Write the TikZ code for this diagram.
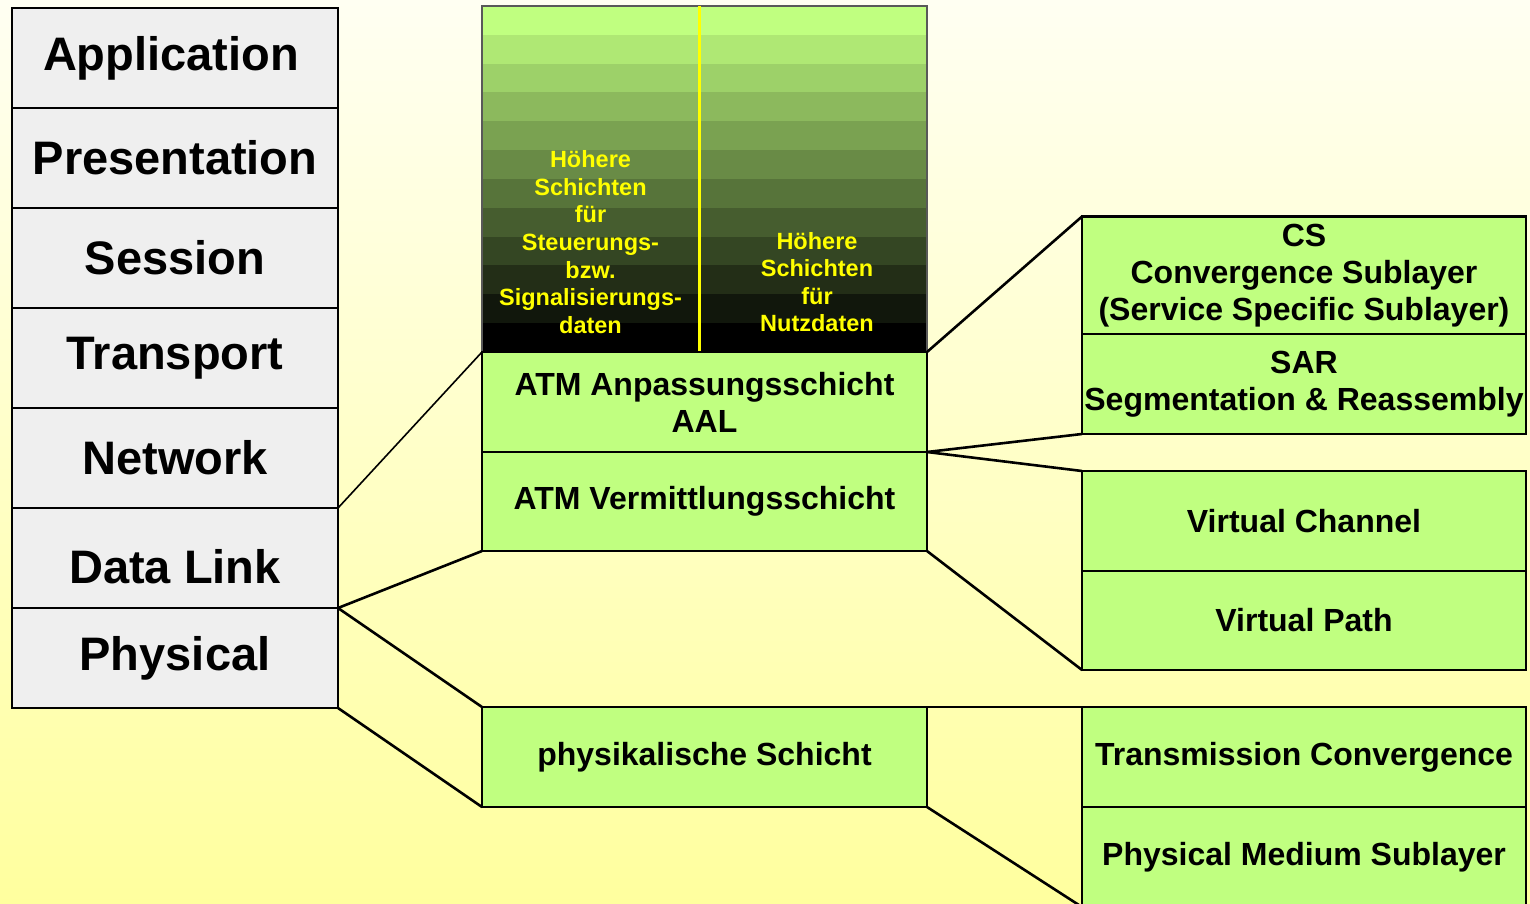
\documentclass[tikz,border=0pt]{standalone}
\usepackage{fontspec}
\setmainfont{Liberation Sans}
\definecolor{lgreen}{RGB}{192,255,128}
\definecolor{osigray}{RGB}{239,239,239}
\definecolor{bgtop}{RGB}{255,255,242}
\definecolor{bgbot}{RGB}{255,255,158}
\definecolor{txtyellow}{RGB}{255,255,0}
\begin{document}
\begin{tikzpicture}[x=1pt,y=-1pt,
  osi/.style={draw=black,line width=2pt,fill=osigray,minimum width=326pt,minimum height=100pt,inner sep=0pt,outer sep=0pt,font=\fontsize{47}{52}\selectfont\bfseries},
  atm/.style={draw=black,line width=2pt,fill=lgreen,minimum width=445pt,minimum height=100pt,inner sep=0pt,outer sep=0pt,align=center,font=\fontsize{32}{37}\selectfont\bfseries},
  sub/.style={draw=black,line width=2.2pt,fill=lgreen,minimum width=444pt,minimum height=100pt,inner sep=0pt,outer sep=0pt,align=center,font=\fontsize{32}{37}\selectfont\bfseries},
  hltext/.style={text=txtyellow,align=center,inner sep=0pt,font=\fontsize{23.5}{27.6}\selectfont\bfseries},
  link/.style={draw=black,line width=2.6pt},
  thinlink/.style={draw=black,line width=1.6pt}]
\useasboundingbox (0,0) rectangle (1530,904);
\shade[top color=bgtop,bottom color=bgbot] (0,0) rectangle (1530,904);
% OSI stack
\node[osi] (app) at (175,58) {\hspace*{-8pt}Application};
\node[osi] (pres) at (175,158) {Presentation};
\node[osi] (sess) at (175,258) {Session};
\node[osi] (trans) at (175,358) {Transport};
\node[osi] (net) at (175,458) {Network};
\node[osi] (dl) at (175,558) {\raisebox{-8pt}[\height][0pt]{Data Link}};
\node[osi] (phys) at (175,658) {Physical};
% higher layers gradient block
\foreach \i in {0,...,11}{
  \pgfmathsetmacro\pc{100*(11-\i)/11}
  \pgfmathsetmacro\ya{6+\i*28.833}
  \pgfmathsetmacro\yb{6+(\i+1)*28.833}
  \fill[lgreen!\pc!black] (482,\ya) rectangle (927,\yb);
}
\node[draw=gray!70!black,line width=1.5pt,minimum width=445pt,minimum height=346pt,inner sep=0pt,outer sep=0pt] (hl) at (704.5,179) {};
\coordinate (dtop) at (699,6);
\coordinate (dbot) at (699,352);
\draw[txtyellow,line width=3pt] (dtop) -- (dbot);
\node[hltext] (lt) at (590.5,242) {Höhere\\Schichten\\für\\Steuerungs-\\bzw.\\Signalisierungs-\\daten};
\node[hltext] (rt) at (817,282) {Höhere\\Schichten\\für\\Nutzdaten};
% ATM middle column
\node[atm] (aal) at (704.5,402) {ATM Anpassungsschicht\\AAL};
\node[atm,minimum height=99pt] (vm) at (704.5,501.5) {ATM Vermittlungsschicht};
\node[atm] (phy) at (704.5,757) {physikalische Schicht};
% right sublayers
\node[sub,minimum height=119pt] (cs) at (1304,276) {CS\\Convergence Sublayer\\(Service Specific Sublayer)};
\node[sub] (sar) at (1304,384) {SAR\\Segmentation \& Reassembly};
\node[sub] (vc) at (1304,521) {Virtual Channel};
\node[sub,minimum height=99pt] (vp) at (1304,620.5) {Virtual Path};
\node[sub] (tc) at (1304,757) {Transmission Convergence};
\node[sub] (pm) at (1304,857) {Physical Medium Sublayer};
% connectors
\draw[thinlink] (net.south east) -- (aal.north west);
\draw[link] (dl.south east) -- (vm.south west);
\draw[link] (dl.south east) -- (phy.north west);
\draw[link] (phys.south east) -- (phy.south west);
\draw[link] (aal.north east) -- (cs.north west);
\draw[link] (aal.south east) -- (sar.south west);
\draw[link] (aal.south east) -- (vc.north west);
\draw[link] (vm.south east) -- (vp.south west);
\draw[link] (phy.north east) -- (tc.north west);
\draw[link] (phy.south east) -- (pm.south west);
\end{tikzpicture}
\end{document}
